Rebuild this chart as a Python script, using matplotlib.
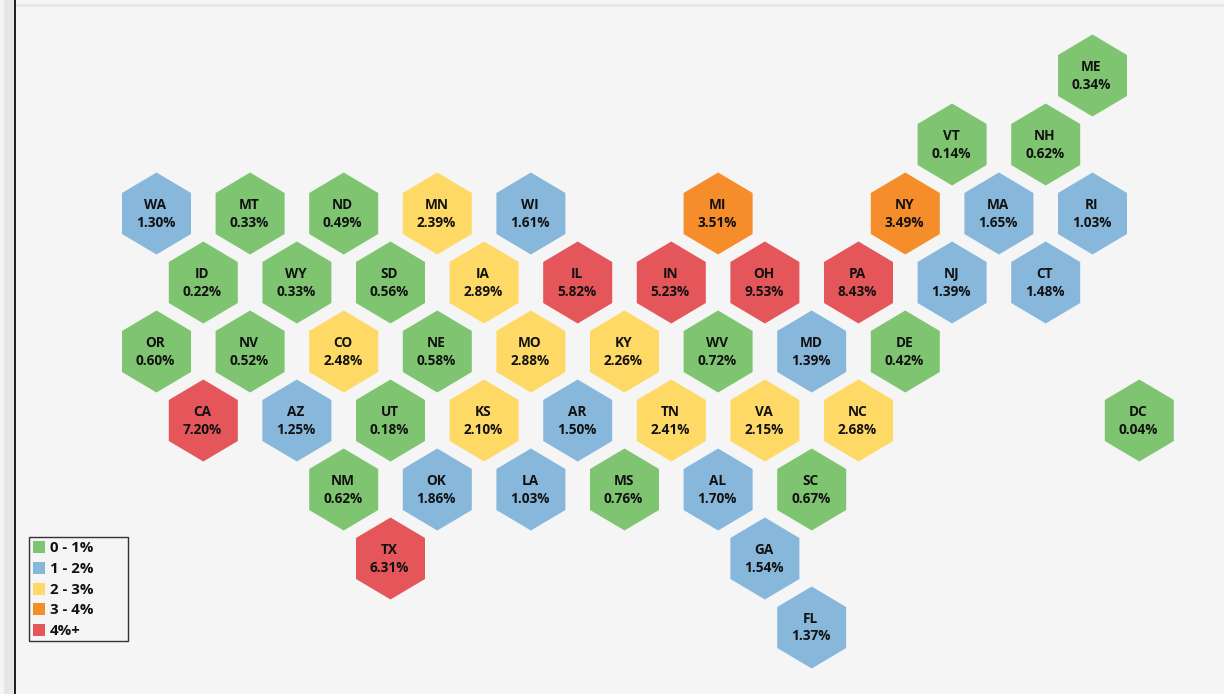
import matplotlib
matplotlib.use("Agg")
import matplotlib.pyplot as plt
from matplotlib.patches import Polygon, Rectangle

plt.rcParams["font.family"] = ["Open Sans", "DejaVu Sans"]

# hex grid: col is in half-hex steps, row counts down from Maine
states = ["ME", "VT", "NH",
          "WA", "MT", "ND", "MN", "WI", "MI", "NY", "MA", "RI",
          "ID", "WY", "SD", "IA", "IL", "IN", "OH", "PA", "NJ", "CT",
          "OR", "NV", "CO", "NE", "MO", "KY", "WV", "MD", "DE",
          "CA", "AZ", "UT", "KS", "AR", "TN", "VA", "NC", "DC",
          "NM", "OK", "LA", "MS", "AL", "SC",
          "TX", "GA",
          "FL"]
cols = [20, 17, 19,
        0, 2, 4, 6, 8, 12, 16, 18, 20,
        1, 3, 5, 7, 9, 11, 13, 15, 17, 19,
        0, 2, 4, 6, 8, 10, 12, 14, 16,
        1, 3, 5, 7, 9, 11, 13, 15, 21,
        4, 6, 8, 10, 12, 14,
        5, 13,
        14]
rows = [0, 1, 1,
        2, 2, 2, 2, 2, 2, 2, 2, 2,
        3, 3, 3, 3, 3, 3, 3, 3, 3, 3,
        4, 4, 4, 4, 4, 4, 4, 4, 4,
        5, 5, 5, 5, 5, 5, 5, 5, 5,
        6, 6, 6, 6, 6, 6,
        7, 7,
        8]
values = [0.34, 0.14, 0.62,
          1.30, 0.33, 0.49, 2.39, 1.61, 3.51, 3.49, 1.65, 1.03,
          0.22, 0.33, 0.56, 2.89, 5.82, 5.23, 9.53, 8.43, 1.39, 1.48,
          0.60, 0.52, 2.48, 0.58, 2.88, 2.26, 0.72, 1.39, 0.42,
          7.20, 1.25, 0.18, 2.10, 1.50, 2.41, 2.15, 2.68, 0.04,
          0.62, 1.86, 1.03, 0.76, 1.70, 0.67,
          6.31, 1.54,
          1.37]

legend_labels = ["0 - 1%", "1 - 2%", "2 - 3%", "3 - 4%", "4%+"]
legend_colors = ["#7FC571", "#88B7DC", "#FFD966", "#F58E2A", "#E4565A"]

BG = "#F5F5F5"
X0, DX = 156.5, 46.8   # pixel x of col 0, half-hex step
Y0, DY = 75.5, 69      # pixel y of row 0, row step
HALF_W, HALF_H = 34.5, 41   # hexes are a bit narrower than regular


def bucket(v):
    return min(int(v), 4)


def hexagon(x, y, color):
    corners = [(x, y - HALF_H), (x + HALF_W, y - HALF_H / 2), (x + HALF_W, y + HALF_H / 2),
               (x, y + HALF_H), (x - HALF_W, y + HALF_H / 2), (x - HALF_W, y - HALF_H / 2)]
    return Polygon(corners, closed=True, fc=color, ec="none")


fig = plt.figure(figsize=(12.24, 6.94), dpi=100, facecolor=BG)
# axes use image pixels so the layout can be read straight off the reference
ax = fig.add_axes([0, 0, 1, 1])
ax.set_xlim(0, 1224)
ax.set_ylim(694, 0)
ax.axis("off")

# window chrome at the edges
ax.add_patch(Rectangle((4, 0), 10, 694, fc="#E6E6E6", ec="none"))
ax.add_patch(Rectangle((14, 0), 2, 694, fc="#222222", ec="none"))
ax.add_patch(Rectangle((16, 4), 1208, 3, fc="#E6E6E6", ec="none"))

for st, c, r, v in zip(states, cols, rows, values):
    x = X0 + c * DX
    y = Y0 + r * DY
    ax.add_patch(hexagon(x, y, legend_colors[bucket(v)]))
    ax.text(x - 1, y - 8.5, st, ha="center", va="center", fontsize=9.8, fontweight="bold", color="#111111")
    ax.text(x - 1, y + 9, f"{v:.2f}%", ha="center", va="center", fontsize=9.8, fontweight="bold", color="#111111")

# legend box
ax.add_patch(Rectangle((28.5, 536.5), 99, 104, fc=BG, ec="#333333", lw=1))
for i, (lab, col) in enumerate(zip(legend_labels, legend_colors)):
    y = 547 + i * 20.8
    ax.add_patch(Rectangle((33, y - 6), 12, 12, fc=col, ec="none"))
    ax.text(50, y + 1, lab, ha="left", va="center", fontsize=10.8, fontweight="bold", color="#111111")

fig.savefig("out.png", dpi=100, facecolor=BG)
